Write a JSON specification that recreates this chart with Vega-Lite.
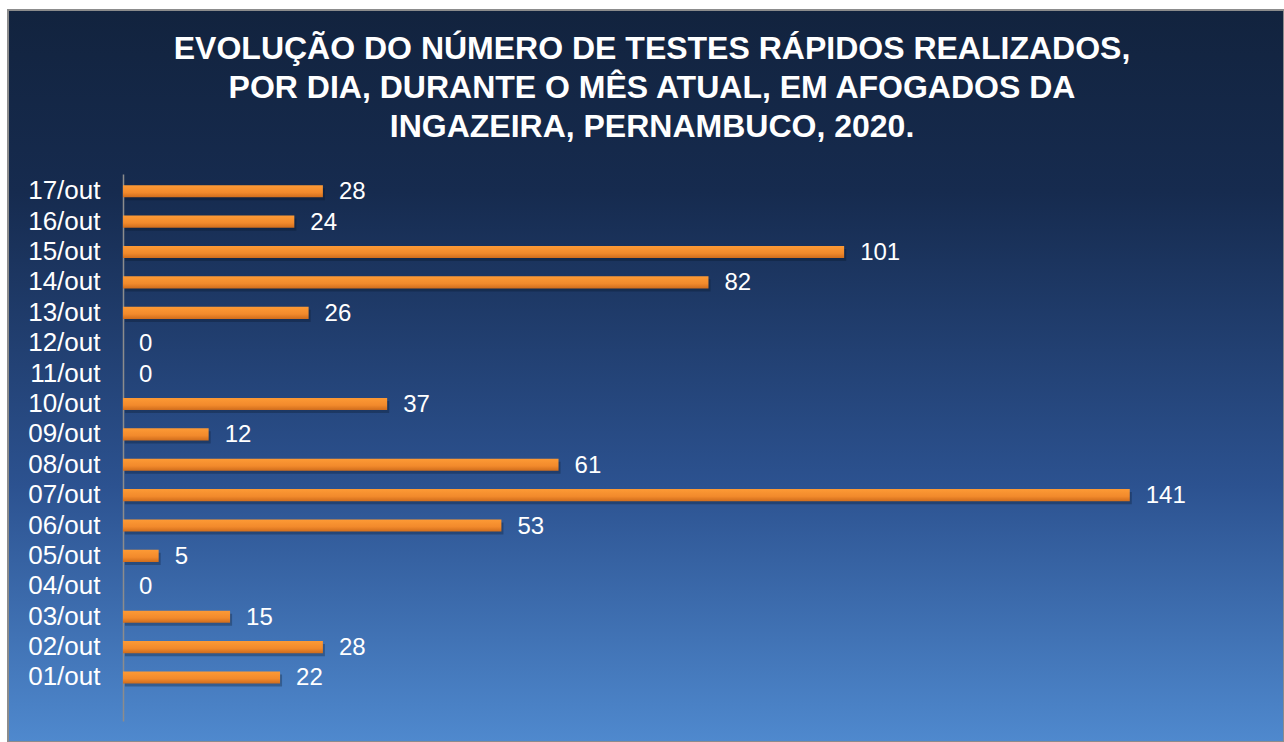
{
  "$schema": "https://vega.github.io/schema/vega-lite/v6.json",
  "width": 1276,
  "height": 732,
  "autosize": {"type": "none"},
  "padding": {"left": 8, "top": 10, "right": 0, "bottom": 0},
  "background": "white",
  "config": {
    "view": {
      "stroke": "#8c8c8c",
      "strokeWidth": 2,
      "fill": {
        "gradient": "linear",
        "x1": 0, "y1": 0, "x2": 0, "y2": 1,
        "stops": [
          {"offset": 0, "color": "#12233e"},
          {"offset": 0.25, "color": "#162b4f"},
          {"offset": 0.65, "color": "#2c5290"},
          {"offset": 1, "color": "#4f89ce"}
        ]
      }
    },
    "font": "Liberation Sans"
  },
  "title": {
    "text": [
      "EVOLUÇÃO DO NÚMERO DE TESTES RÁPIDOS REALIZADOS,",
      "POR DIA, DURANTE O MÊS ATUAL, EM AFOGADOS DA",
      "INGAZEIRA, PERNAMBUCO, 2020."
    ],
    "font": "Liberation Sans",
    "fontSize": 32,
    "fontWeight": "bold",
    "color": "white",
    "anchor": "middle",
    "frame": "group",
    "baseline": "top",
    "offset": -134,
    "lineHeight": 39,
    "dx": 6
  },
  "data": {
    "values": [
      {"day": "17/out", "n": 28},
      {"day": "16/out", "n": 24},
      {"day": "15/out", "n": 101},
      {"day": "14/out", "n": 82},
      {"day": "13/out", "n": 26},
      {"day": "12/out", "n": 0},
      {"day": "11/out", "n": 0},
      {"day": "10/out", "n": 37},
      {"day": "09/out", "n": 12},
      {"day": "08/out", "n": 61},
      {"day": "07/out", "n": 141},
      {"day": "06/out", "n": 53},
      {"day": "05/out", "n": 5},
      {"day": "04/out", "n": 0},
      {"day": "03/out", "n": 15},
      {"day": "02/out", "n": 28},
      {"day": "01/out", "n": 22}
    ]
  },
  "encoding": {
    "y": {
      "field": "day",
      "type": "nominal",
      "sort": ["17/out","16/out","15/out","14/out","13/out","12/out","11/out","10/out","09/out","08/out","07/out","06/out","05/out","04/out","03/out","02/out","01/out"],
      "scale": {"range": [164, 711], "paddingInner": 0.6, "paddingOuter": 0.8, "align": 0.23, "round": false},
      "axis": {
        "orient": "left",
        "offset": -115,
        "title": null,
        "ticks": false,
        "grid": false,
        "domainColor": "#8c8c8c",
        "domainWidth": 1.5,
        "labelPadding": 23,
        "labelColor": "white",
        "labelFont": "Liberation Sans",
        "labelFontSize": 26
      }
    },
    "x": {
      "field": "n",
      "type": "quantitative",
      "scale": {"domain": [-16.1, 162.6], "zero": false, "nice": false},
      "axis": null
    }
  },
  "layer": [
    {
      "mark": {"type": "bar", "color": "#081426", "opacity": 0.3, "xOffset": 2, "yOffset": 3}
    },
    {
      "mark": {
        "type": "bar",
        "color": {
          "gradient": "linear",
          "x1": 0, "y1": 0, "x2": 0, "y2": 1,
          "stops": [
            {"offset": 0, "color": "#fd9a35"},
            {"offset": 0.6, "color": "#f28a2c"},
            {"offset": 1, "color": "#cf6c1c"}
          ]
        }
      }
    },
    {
      "mark": {"type": "text", "align": "left", "baseline": "middle", "dx": 16, "dy": 1, "color": "white", "font": "Liberation Sans", "fontSize": 24},
      "encoding": {"text": {"field": "n", "type": "quantitative"}}
    }
  ]
}
